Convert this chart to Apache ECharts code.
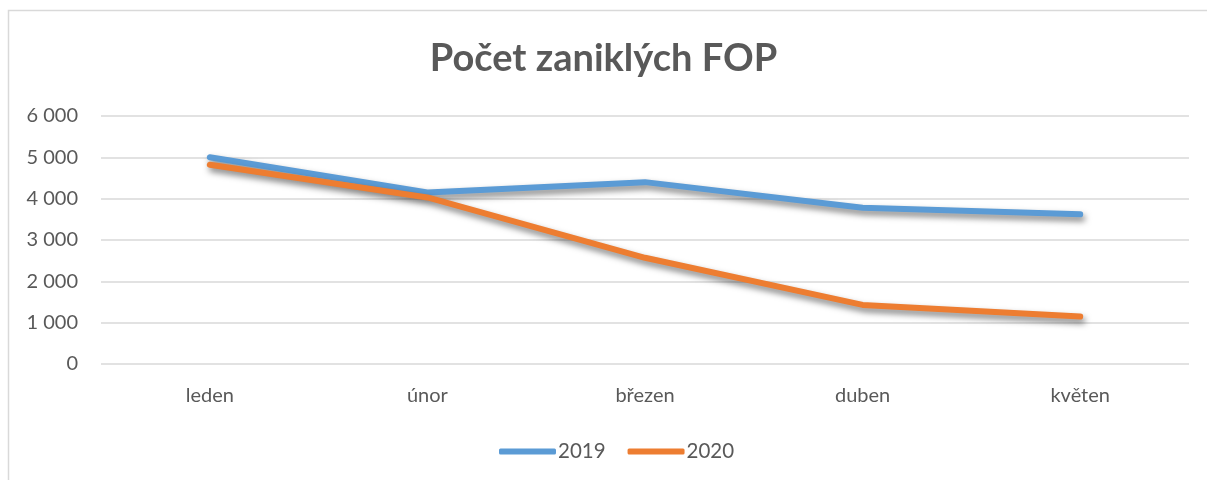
<!DOCTYPE html>
<html><head><meta charset="utf-8">
<script src="https://cdn.jsdelivr.net/npm/echarts@6/dist/echarts.min.js"></script>
<style>html,body{margin:0;padding:0;background:#fff}#c{width:1207px;height:480px}</style>
</head><body><div id="c"></div>
<script>
const categories = ['leden', 'únor', 'březen', 'duben', 'květen'];
const s2019 = [5000, 4150, 4400, 3780, 3620];
const s2020 = [4820, 4030, 2570, 1430, 1150];
const yTicks = { min: 0, max: 6000, interval: 1000 };
const title = 'Počet zaniklých FOP';

const font = 'Lato, "Open Sans", sans-serif';
const chart = echarts.init(document.getElementById('c'));
const lineSeries = (name, data, color) => ({
  name, type: 'line', data, symbol: 'none', smooth: false,
  lineStyle: { width: 6, color, cap: 'round', join: 'round',
    shadowColor: 'rgba(0,0,0,0.5)', shadowBlur: 6, shadowOffsetX: 2, shadowOffsetY: 4 },
  itemStyle: { color }
});
chart.setOption({
  animation: false,
  graphic: [{ type: 'rect', shape: { x: 8.5, y: 10.5, width: 1220, height: 500 },
    style: { fill: 'none', stroke: '#d9d9d9', lineWidth: 1.5 }, silent: true }],
  title: { text: title, left: 'center', top: 35,
    textStyle: { fontFamily: font, fontWeight: 'bold', fontSize: 38, color: '#595959' } },
  legend: { top: 436, left: 494, itemWidth: 57, itemHeight: 6, itemGap: 22,
    icon: 'roundRect',
    textStyle: { fontFamily: font, fontSize: 20.5, color: '#595959', padding: [0, 0, 0, -3] },
    data: ['2019', '2020'] },
  grid: { left: 101, right: 18, top: 116, bottom: 116 },
  xAxis: { type: 'category', data: categories, boundaryGap: true,
    axisLine: { show: false }, axisTick: { show: false },
    axisLabel: { fontFamily: font, fontSize: 20, color: '#595959', margin: 22 } },
  yAxis: { type: 'value', min: yTicks.min, max: yTicks.max, interval: yTicks.interval,
    axisLine: { show: false }, axisTick: { show: false },
    splitLine: { lineStyle: { color: '#d9d9d9', width: 1.5 } },
    axisLabel: { fontFamily: font, fontSize: 20, color: '#595959', margin: 23,
      formatter: v => String(v).replace(/\B(?=(\d{3})+(?!\d))/g, ' ') } },
  series: [lineSeries('2019', s2019, '#5B9BD5'), lineSeries('2020', s2020, '#ED7D31')]
});
</script></body></html>
